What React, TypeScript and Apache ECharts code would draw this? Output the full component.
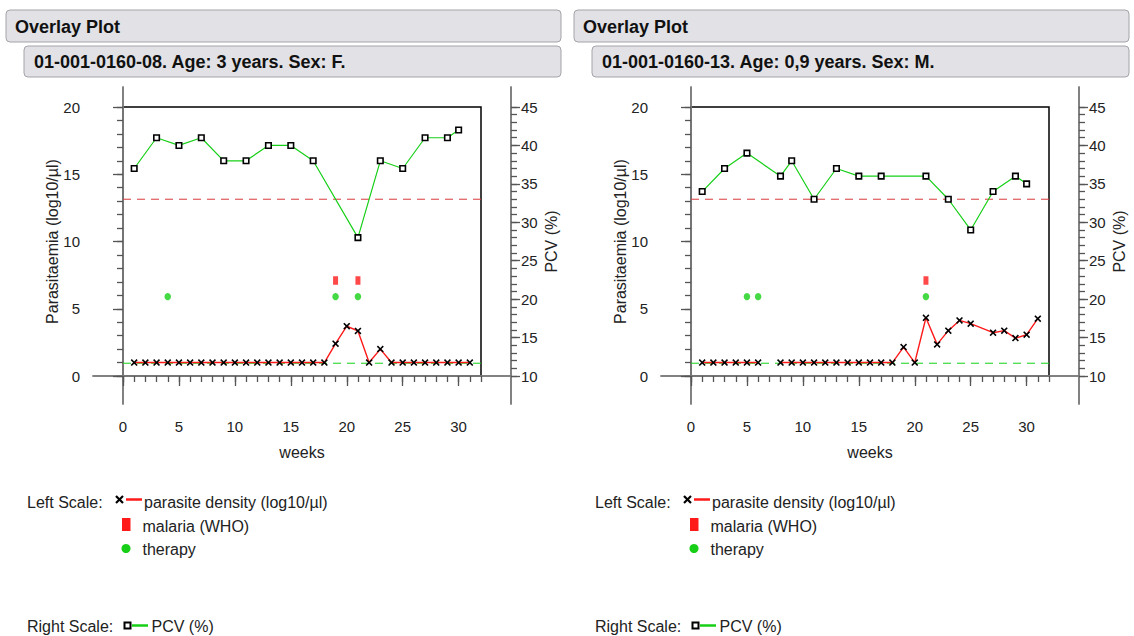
import React, { useEffect, useRef } from "react";
import * as echarts from "echarts";

// ---------- data ----------
const WEEK_MAJOR = [0, 5, 10, 15, 20, 25, 30];
const WEEK_MINOR = [0, 1, 2, 3, 4, 5, 6, 7, 8, 9, 10, 11, 12, 13, 14, 15, 16, 17, 18, 19, 20, 21, 22, 23, 24, 25, 26, 27, 28, 29, 30, 31, 32];
const LEFT_MAJOR = [0, 5, 10, 15, 20];
const LEFT_MINOR = [0, 1, 2, 3, 4, 5, 6, 7, 8, 9, 10, 11, 12, 13, 14, 15, 16, 17, 18, 19, 20];
const RIGHT_MAJOR = [10, 15, 20, 25, 30, 35, 40, 45];
const RIGHT_MINOR = [10, 11, 12, 13, 14, 15, 16, 17, 18, 19, 20, 21, 22, 23, 24, 25, 26, 27, 28, 29, 30, 31, 32, 33, 34, 35, 36, 37, 38, 39, 40, 41, 42, 43, 44, 45];

const PCV_THRESHOLD = 33;
const PARASITE_BASELINE = 0.95;

// Patient 01-001-0160-08
const A_TITLE = "01-001-0160-08. Age: 3 years. Sex: F.";
const A_PAR_WEEKS = [1, 2, 3, 4, 5, 6, 7, 8, 9, 10, 11, 12, 13, 14, 15, 16, 17, 18, 19, 20, 21, 22, 23, 24, 25, 26, 27, 28, 29, 30, 31];
const A_PAR_VALUES = [1, 1, 1, 1, 1, 1, 1, 1, 1, 1, 1, 1, 1, 1, 1, 1, 1, 1, 2.4, 3.7, 3.35, 1, 2.0, 1, 1, 1, 1, 1, 1, 1, 1];
const A_PCV_WEEKS = [1, 3, 5, 7, 9, 11, 13, 15, 17, 21, 23, 25, 27, 29, 30];
const A_PCV_VALUES = [37, 41, 40, 41, 38, 38, 40, 40, 38, 28, 38, 37, 41, 41, 42];
const A_MALARIA_WEEKS = [19, 21];
const A_MALARIA_LEVEL = 7.1;
const A_THERAPY_WEEKS = [4, 19, 21];
const A_THERAPY_LEVEL = 5.9;

// Patient 01-001-0160-13
const B_TITLE = "01-001-0160-13. Age: 0,9 years. Sex: M.";
const B_PAR_WEEKS = [1, 2, 3, 4, 5, 6, 7, 8, 9, 10, 11, 12, 13, 14, 15, 16, 17, 18, 19, 20, 21, 22, 23, 24, 25, 27, 28, 29, 30, 31];
const B_PAR_VALUES = [1, 1, 1, 1, 1, 1, null, 1, 1, 1, 1, 1, 1, 1, 1, 1, 1, 1, 2.15, 1, 4.33, 2.35, 3.37, 4.13, 3.89, 3.22, 3.37, 2.82, 3.07, 4.26];
const B_PCV_WEEKS = [1, 3, 5, 8, 9, 11, 13, 15, 17, 21, 23, 25, 27, 29, 30];
const B_PCV_VALUES = [34, 37, 39, 36, 38, 33, 37, 36, 36, 36, 33, 29, 34, 36, 35];
const B_MALARIA_WEEKS = [21];
const B_MALARIA_LEVEL = 7.1;
const B_THERAPY_WEEKS = [5, 6, 21];
const B_THERAPY_LEVEL = 5.9;

// ---------- layout ----------
const FONT = "Arial, 'Liberation Sans', Helvetica, sans-serif";
const FR = { l: 123, t: 107, w: 358, h: 269 }; // plot frame
const AX = { l: 93, t: 87, r: 511, b: 404 }; // outer axes
const X_MAX = 32;
const L_MIN = 0, L_MAX = 20, R_MIN = 10, R_MAX = 45;

const X_PATH = "path://M0,1.6L1.6,0L5,3.4L8.4,0L10,1.6L6.6,5L10,8.4L8.4,10L5,6.6L1.6,10L0,8.4L3.4,5Z";

const GREEN = "#17cf17";
const RED = "#ff1a1a";
const DASH_RED = "#d83a3a";
const AXIS_GRAY = "#7a7a7a";

function pairs(xs: number[], ys: (number | null)[]) {
  return xs.map((x, i) => [x, ys[i]]);
}
function level(xs: number[], v: number) {
  return xs.map((x) => [x, v]);
}

function txt(x: number, y: number, text: string, size = 16, weight = "normal", color = "#222") {
  return {
    type: "text",
    x,
    y,
    style: { text, fill: color, fontSize: size, fontWeight: weight, fontFamily: FONT, verticalAlign: "middle", align: "left" },
    silent: true,
  };
}

function buildOption(p: any) {
  const xMin = -(FR.l - AX.l) * X_MAX / FR.w;
  const xMax = X_MAX + (AX.r - (FR.l + FR.w)) * X_MAX / FR.w;
  const below = AX.b - (FR.t + FR.h);
  const above = FR.t - AX.t;
  const lMin = L_MIN - below * (L_MAX - L_MIN) / FR.h;
  const lMax = L_MAX + above * (L_MAX - L_MIN) / FR.h;
  const rMin = R_MIN - below * (R_MAX - R_MIN) / FR.h;
  const rMax = R_MAX + above * (R_MAX - R_MIN) / FR.h;

  const axLine = { show: true, lineStyle: { color: AXIS_GRAY, width: 1.5 } };
  const tickStyle = { color: "#555", width: 1.3 };
  const label = { fontSize: 15, color: "#222", fontFamily: FONT };
  const nameStyle = { fontSize: 16, color: "#222", fontFamily: FONT };
  const hiddenParts = { axisLine: { show: false }, axisTick: { show: false }, axisLabel: { show: false }, splitLine: { show: false } };

  const graphic: any[] = [
    { type: "rect", shape: { x: 6, y: 10, width: 555, height: 32, r: 4 }, style: { fill: "#e2e2e6", stroke: "#a4a4a8", lineWidth: 1 }, silent: true },
    txt(15, 26.5, "Overlay Plot", 18, "bold", "#111"),
    { type: "rect", shape: { x: 24, y: 46, width: 537, height: 31, r: 4 }, style: { fill: "#e2e2e6", stroke: "#a4a4a8", lineWidth: 1 }, silent: true },
    txt(34, 61.5, p.title, 18, "bold", "#111"),
    // legend
    txt(27, 502, "Left Scale:"),
    { type: "line", shape: { x1: 116, y1: 496, x2: 123, y2: 503 }, style: { stroke: "#000", lineWidth: 2.2 }, silent: true },
    { type: "line", shape: { x1: 116, y1: 503, x2: 123, y2: 496 }, style: { stroke: "#000", lineWidth: 2.2 }, silent: true },
    { type: "line", shape: { x1: 126, y1: 499.5, x2: 142, y2: 499.5 }, style: { stroke: RED, lineWidth: 2.5 }, silent: true },
    txt(144, 502, "parasite density (log10/µl)"),
    { type: "rect", shape: { x: 122, y: 518, width: 8.5, height: 13 }, style: { fill: RED }, silent: true },
    txt(142.5, 526, "malaria (WHO)"),
    { type: "circle", shape: { cx: 126, cy: 548.5, r: 4.5 }, style: { fill: GREEN }, silent: true },
    txt(142.5, 549, "therapy"),
    txt(27, 626, "Right Scale:"),
    { type: "rect", shape: { x: 124.5, y: 622.5, width: 6, height: 6 }, style: { fill: "#fff", stroke: "#000", lineWidth: 2 }, silent: true },
    { type: "line", shape: { x1: 132, y1: 625.5, x2: 148, y2: 625.5 }, style: { stroke: GREEN, lineWidth: 2.5 }, silent: true },
    txt(151.5, 626, "PCV (%)"),
  ];

  return {
    animation: false,
    backgroundColor: "#ffffff",
    textStyle: { fontFamily: FONT },
    grid: [
      { left: FR.l, top: FR.t, width: FR.w, height: FR.h, show: true, borderColor: "#000", borderWidth: 1.5, backgroundColor: "#fff", outerBoundsMode: "none", containLabel: false },
      { left: AX.l, top: AX.t, width: AX.r - AX.l, height: AX.b - AX.t, show: false, outerBoundsMode: "none", containLabel: false },
    ],
    xAxis: [
      { gridIndex: 0, type: "value", min: 0, max: X_MAX, ...hiddenParts, name: "weeks", nameLocation: "middle", nameGap: 68, nameTextStyle: nameStyle },
      {
        gridIndex: 1, type: "value", min: xMin, max: xMax, position: "bottom", axisLine: axLine, splitLine: { show: false },
        axisTick: { show: true, customValues: WEEK_MAJOR, length: 10, lineStyle: tickStyle },
        axisLabel: { show: true, customValues: WEEK_MAJOR, margin: 15, ...label },
      },
      {
        gridIndex: 1, type: "value", min: xMin, max: xMax, position: "bottom", axisLine: axLine, splitLine: { show: false },
        axisTick: { show: true, customValues: WEEK_MINOR, length: 6, lineStyle: tickStyle },
        axisLabel: { show: false },
      },
    ],
    yAxis: [
      { gridIndex: 0, type: "value", min: L_MIN, max: L_MAX, position: "left", ...hiddenParts, name: "Parasitaemia (log10/µl)", nameLocation: "middle", nameGap: 63, nameTextStyle: nameStyle },
      { gridIndex: 0, type: "value", min: R_MIN, max: R_MAX, position: "right", ...hiddenParts, name: "PCV (%)", nameLocation: "middle", nameGap: 62, nameTextStyle: nameStyle },
      {
        gridIndex: 1, type: "value", min: lMin, max: lMax, position: "left", axisLine: axLine, splitLine: { show: false },
        axisTick: { show: true, customValues: LEFT_MAJOR, length: 10, lineStyle: tickStyle },
        axisLabel: { show: true, customValues: LEFT_MAJOR, margin: 13, ...label },
      },
      {
        gridIndex: 1, type: "value", min: lMin, max: lMax, position: "left", axisLine: axLine, splitLine: { show: false },
        axisTick: { show: true, customValues: LEFT_MINOR, length: 6, lineStyle: tickStyle },
        axisLabel: { show: false },
      },
      {
        gridIndex: 1, type: "value", min: rMin, max: rMax, position: "right", axisLine: axLine, splitLine: { show: false },
        axisTick: { show: true, customValues: RIGHT_MAJOR, length: 9, lineStyle: tickStyle },
        axisLabel: { show: true, customValues: RIGHT_MAJOR, margin: 10, ...label },
      },
      {
        gridIndex: 1, type: "value", min: rMin, max: rMax, position: "right", axisLine: axLine, splitLine: { show: false },
        axisTick: { show: true, customValues: RIGHT_MINOR, length: 6, lineStyle: tickStyle },
        axisLabel: { show: false },
      },
    ],
    series: [
      {
        name: "pcv threshold", type: "line", xAxisIndex: 0, yAxisIndex: 1, symbol: "none", silent: true,
        data: [[0, PCV_THRESHOLD], [X_MAX, PCV_THRESHOLD]],
        lineStyle: { color: DASH_RED, width: 1, type: [8, 6] }, z: 1,
      },
      {
        name: "parasite baseline", type: "line", xAxisIndex: 0, yAxisIndex: 0, symbol: "none", silent: true,
        data: [[0, PARASITE_BASELINE], [X_MAX, PARASITE_BASELINE]],
        lineStyle: { color: GREEN, width: 1, type: [8, 6] }, z: 1,
      },
      {
        name: "PCV (%)", type: "line", xAxisIndex: 0, yAxisIndex: 1, data: pairs(p.pcvW, p.pcvV),
        symbol: "rect", symbolSize: 5.5, showAllSymbol: true,
        itemStyle: { color: "#fff", borderColor: "#000", borderWidth: 1.6 },
        lineStyle: { color: GREEN, width: 1.2 }, z: 3,
      },
      {
        name: "parasite density", type: "line", xAxisIndex: 0, yAxisIndex: 0, data: pairs(p.parW, p.parV),
        connectNulls: false, symbol: X_PATH, symbolSize: 7, showAllSymbol: true,
        itemStyle: { color: "#000" }, lineStyle: { color: RED, width: 1.4 }, z: 4,
      },
      {
        name: "malaria (WHO)", type: "scatter", xAxisIndex: 0, yAxisIndex: 0, data: level(p.malW, p.malL),
        symbol: "rect", symbolSize: [5, 8.5], itemStyle: { color: RED }, z: 5,
      },
      {
        name: "therapy", type: "scatter", xAxisIndex: 0, yAxisIndex: 0, data: level(p.thW, p.thL),
        symbol: "circle", symbolSize: [6.5, 7], itemStyle: { color: GREEN }, z: 5,
      },
    ],
    graphic: { elements: graphic },
  };
}

function Panel({ p, left }: { p: any; left: number }) {
  const ref = useRef<HTMLDivElement>(null);
  useEffect(() => {
    const chart = echarts.init(ref.current as HTMLDivElement, null, { renderer: "svg" });
    chart.setOption(buildOption(p) as any);
    return () => chart.dispose();
  }, []);
  return <div ref={ref} style={{ position: "absolute", left, top: 0, width: 566, height: 636 }} />;
}

const PANEL_A = { title: A_TITLE, parW: A_PAR_WEEKS, parV: A_PAR_VALUES, pcvW: A_PCV_WEEKS, pcvV: A_PCV_VALUES, malW: A_MALARIA_WEEKS, malL: A_MALARIA_LEVEL, thW: A_THERAPY_WEEKS, thL: A_THERAPY_LEVEL };
const PANEL_B = { title: B_TITLE, parW: B_PAR_WEEKS, parV: B_PAR_VALUES, pcvW: B_PCV_WEEKS, pcvV: B_PCV_VALUES, malW: B_MALARIA_WEEKS, malL: B_MALARIA_LEVEL, thW: B_THERAPY_WEEKS, thL: B_THERAPY_LEVEL };

export default function App() {
  return (
    <div style={{ position: "fixed", left: 0, top: 0, width: 1134, height: 636, background: "#fff", overflow: "hidden" }}>
      <Panel p={PANEL_A} left={0} />
      <Panel p={PANEL_B} left={568} />
    </div>
  );
}
